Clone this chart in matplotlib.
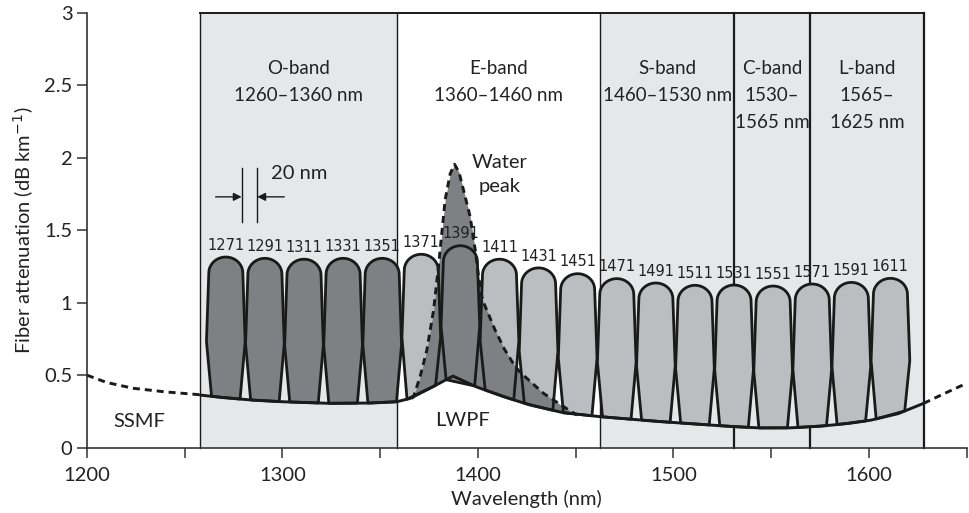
import numpy as np
import matplotlib
matplotlib.use("Agg")
import matplotlib.pyplot as plt
from matplotlib.patches import Polygon, Rectangle
from matplotlib.ticker import MultipleLocator, FuncFormatter

# ---------------- data ----------------
band_names = ["O-band\n1260\u20131360 nm", "E-band\n1360\u20131460 nm",
              "S-band\n1460\u20131530 nm", "C-band\n1530\u2013\n1565 nm",
              "L-band\n1565\u2013\n1625 nm"]
band_edges = [1258, 1358.5, 1462.5, 1531, 1570, 1628]   # drawn edges
band_shaded = [True, False, True, True, True]

channels = [1271, 1291, 1311, 1331, 1351, 1371, 1391, 1411, 1431, 1451,
            1471, 1491, 1511, 1531, 1551, 1571, 1591, 1611]
channel_tops = [1.315, 1.306, 1.30, 1.306, 1.306, 1.334, 1.393, 1.30, 1.24,
                1.20, 1.166, 1.136, 1.12, 1.122, 1.115, 1.129, 1.14, 1.168]
channel_dark = [True, True, True, True, True, False, True, False, False,
                False, False, False, False, False, False, False, False, False]

# LWPF (solid) attenuation curve
lwpf_wl = [1258, 1270, 1285, 1300, 1324, 1345, 1358.5, 1365.3, 1375.5, 1387.2,
           1399.9, 1413.1, 1426.7, 1443.8, 1462.5, 1493.2, 1515, 1531, 1545,
           1560, 1575, 1590, 1601, 1615, 1628]
lwpf_att = [0.363, 0.345, 0.328, 0.317, 0.306, 0.308, 0.317, 0.34, 0.41, 0.494,
            0.416, 0.352, 0.294, 0.241, 0.214, 0.18, 0.16, 0.145, 0.136,
            0.137, 0.148, 0.168, 0.19, 0.235, 0.306]

# SSMF (dashed) curve segments
ssmf_left_wl = [1200, 1210, 1223.5, 1240, 1258]
ssmf_left_att = [0.5, 0.45, 0.41, 0.385, 0.365]
ssmf_right_wl = [1628, 1638, 1648]
ssmf_right_att = [0.306, 0.37, 0.432]
peak_wl = [1366, 1367, 1370.4, 1373.8, 1377.3, 1379.8, 1381.5, 1383.2, 1385.8,
           1388, 1390.3, 1392.6, 1396, 1398.6, 1400.3, 1402.3, 1408.8, 1413.5,
           1419, 1422.4, 1433.5, 1443.8, 1450.6]
peak_att = [0.34, 0.35, 0.49, 0.67, 0.95, 1.25, 1.48, 1.71, 1.89,
            1.955, 1.90, 1.777, 1.593, 1.363, 1.18, 1.02, 0.81, 0.68,
            0.56, 0.51, 0.375, 0.283, 0.225]

# ---------------- figure ----------------
plt.rcParams['font.family'] = ['Lato', 'DejaVu Sans']
fig = plt.figure(figsize=(9.69, 5.13), dpi=100)
ax = fig.add_axes([0.0898, 0.1273, 0.9078, 0.8479])
ax.set_xlim(1200, 1650)
ax.set_ylim(0, 3)

DARK = '#7f8083'
LIGHT = '#bcbdc0'
SHADE = '#e6e7e8'
EDGE = '#1a1a1a'
TXT = '#222222'
FS = 14.5

# bands
for i, name in enumerate(band_names):
    x0, x1 = band_edges[i], band_edges[i + 1]
    if band_shaded[i]:
        ax.add_patch(Rectangle((x0, 0), x1 - x0, 3, facecolor=SHADE,
                               edgecolor='none', zorder=0))
    ax.text((x0 + x1) / 2, 2.675, name, ha='center', va='top', fontsize=13.5,
            color=TXT, linespacing=1.72, zorder=6)
for j, xe in enumerate(band_edges):
    lw = 1.0 if j < 3 else 1.6
    ax.plot([xe, xe], [0, 3], color=EDGE, lw=lw, zorder=1, clip_on=False)
ax.plot([band_edges[0], band_edges[-1]], [3, 3], color=EDGE, lw=1.4,
        zorder=1, clip_on=False)

# channel shapes
def lwpf(x):
    return np.interp(x, lwpf_wl, lwpf_att)

ht, hm, hb = 8.7, 9.9, 7.3
cap = 0.11
shapes = []
for c, t in zip(channels, channel_tops):
    bl, br = lwpf(c - hb), lwpf(c + hb)
    b = lwpf(c)
    s = t - cap
    ym = b + 0.40 * (t - b)
    th = np.linspace(np.pi, 0, 30)
    capx = c + ht * np.cos(th)
    capy = s + cap * np.sin(th)
    xs = [c - hb, c - hm] + list(capx) + [c + hm, c + hb]
    ys = [bl, ym] + list(capy) + [ym, br]
    shapes.append(np.column_stack([xs, ys]))

for pts, dark in zip(shapes, channel_dark):
    ax.add_patch(Polygon(pts, closed=True, facecolor=DARK if dark else LIGHT,
                         edgecolor='none', zorder=2))

# water peak fill
pw = np.array(peak_wl)
pa = np.array(peak_att)
ax.fill_between(pw, lwpf(pw), pa, color=DARK, lw=0, zorder=2.5)

for pts in shapes:
    ax.add_patch(Polygon(pts, closed=True, facecolor='none', edgecolor=EDGE,
                         lw=2.0, joinstyle='round', zorder=3))

for c, t in zip(channels, channel_tops):
    ax.text(c, t + 0.03, str(c), ha='center', va='bottom', fontsize=10.5,
            family='DejaVu Sans', color=TXT, zorder=6)

# curves
ax.plot(lwpf_wl, lwpf_att, color=EDGE, lw=2.1, zorder=4, solid_capstyle='round')
dash = dict(color=EDGE, lw=2.1, ls=(0, (2.4, 1.7)), zorder=4)
ax.plot(ssmf_left_wl, ssmf_left_att, **dash)
ax.plot(ssmf_right_wl, ssmf_right_att, clip_on=False, **dash)
ax.plot(peak_wl, peak_att, **dash)

# annotations
ax.plot([1279.1, 1279.1], [1.555, 1.93], color=EDGE, lw=1.0, zorder=5)
ax.plot([1287.1, 1287.1], [1.555, 1.93], color=EDGE, lw=1.0, zorder=5)
ax.annotate('', xy=(1279.1, 1.73), xytext=(1265.8, 1.73),
            arrowprops=dict(arrowstyle='-|>', color=EDGE, lw=1.0,
                            mutation_scale=12, shrinkA=0, shrinkB=0))
ax.annotate('', xy=(1287.1, 1.73), xytext=(1300.9, 1.73),
            arrowprops=dict(arrowstyle='-|>', color=EDGE, lw=1.0,
                            mutation_scale=12, shrinkA=0, shrinkB=0))
ax.text(1294, 1.89, '20 nm', ha='left', va='center', fontsize=FS, color=TXT)
ax.text(1411, 1.885, 'Water\npeak', ha='center', va='center', fontsize=FS,
        color=TXT, linespacing=1.45)
ax.text(1227, 0.18, 'SSMF', ha='center', va='center', fontsize=FS, color=TXT)
ax.text(1392, 0.19, 'LWPF', ha='center', va='center', fontsize=FS, color=TXT)

# axes styling
for sp in ['top', 'right']:
    ax.spines[sp].set_visible(False)
for sp in ['left', 'bottom']:
    ax.spines[sp].set_color('#333333')
    ax.spines[sp].set_linewidth(1.2)
ax.xaxis.set_major_locator(MultipleLocator(100))
ax.xaxis.set_minor_locator(MultipleLocator(50))
ax.yaxis.set_major_locator(MultipleLocator(0.5))
ax.yaxis.set_major_formatter(FuncFormatter(lambda v, p: ('%g' % v)))
ax.tick_params(axis='both', which='both', direction='out', length=7,
               width=1.1, color='#333333', labelsize=FS, labelcolor=TXT)
ax.tick_params(axis='x', pad=7)
ax.set_xlabel('Wavelength (nm)', fontsize=FS, color=TXT, labelpad=4)
ax.set_ylabel('Fiber attenuation (dB km$^{-1}$)', fontsize=FS, color=TXT,
              labelpad=6)

fig.savefig('out.png', dpi=100)
